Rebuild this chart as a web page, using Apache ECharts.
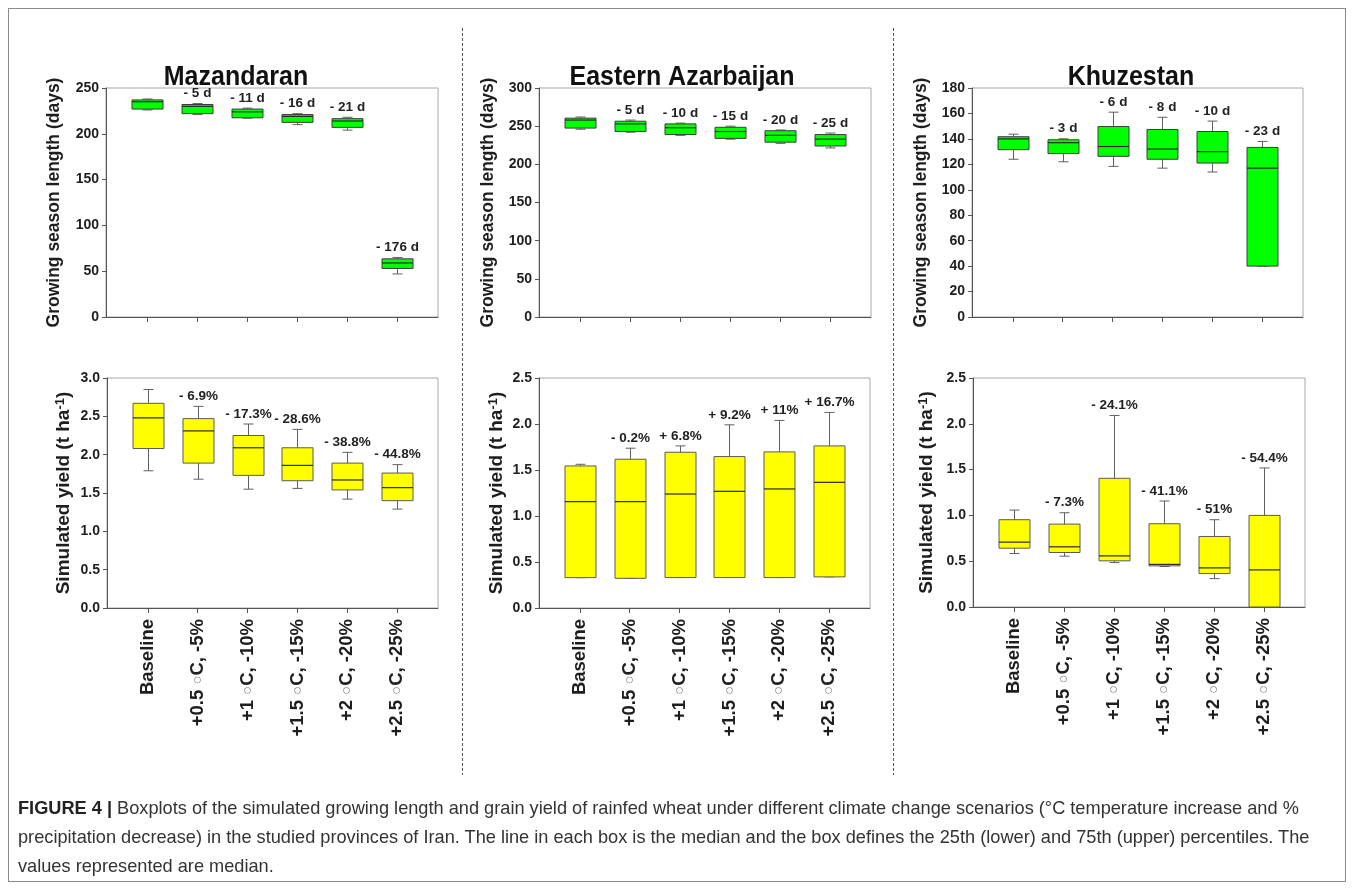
<!DOCTYPE html>
<html>
<head>
<meta charset="utf-8">
<script src="https://cdn.jsdelivr.net/npm/echarts@6/dist/echarts.min.js"></script>
<style>
  html, body { margin: 0; padding: 0; background: #fff; }
  #frame { position: absolute; left: 8px; top: 8px; width: 1338px; height: 874px; border: 1px solid #8a8a8a; box-sizing: border-box; }
  #chart { position: absolute; left: 0; top: 0; width: 1355px; height: 891px; }
  #caption { position: absolute; left: 18px; top: 794px; width: 1320px; font-family: "Liberation Sans", Arial, sans-serif; font-size: 18.2px; line-height: 29px; color: #333; white-space: nowrap; }
  #caption b { color: #222; }
</style>
</head>
<body>
<div id="frame"></div>
<div id="chart"></div>
<div id="caption"><b>FIGURE 4 |</b> Boxplots of the simulated growing length and grain yield of rainfed wheat under different climate change scenarios (°C temperature increase and %<br>precipitation decrease) in the studied provinces of Iran. The line in each box is the median and the box defines the 25th (lower) and 75th (upper) percentiles. The<br>values represented are median.</div>
<script>
// ------------------------------------------------------------
// data
// ------------------------------------------------------------
var SCENARIOS = ['Baseline', '+0.5 ○C, -5%', '+1 ○C, -10%', '+1.5 ○C, -15%', '+2 ○C, -20%', '+2.5 ○C, -25%'];
var PROVINCES = ['Mazandaran', 'Eastern Azarbaijan', 'Khuzestan'];

// each box: [lower whisker, q1, median, q3, upper whisker]
var MAZ_DAYS = [[226, 227, 235, 237, 238], [221, 222, 230, 232, 233], [217, 217.5, 224, 227, 228], [210, 212.5, 219, 221, 222], [204, 207, 214, 216.5, 218], [47, 53, 59, 63.5, 65]];
var EAZ_DAYS = [[246, 247.5, 258, 260.5, 262], [242, 243, 253, 256.5, 258], [238, 239, 248, 253, 254], [233, 234, 243, 248.5, 250], [227.5, 229, 238, 244, 245], [221.5, 224, 233, 239, 241]];
var KHU_DAYS = [[124, 131.5, 140, 141.7, 143.7], [122, 128.4, 137, 139.3, 140.1], [118.4, 126.3, 134, 149.7, 161], [117, 124, 132, 147.4, 157], [114, 121, 130, 145.8, 154], [40, 40, 117, 133.3, 138]];

var MAZ_YIELD = [[1.79, 2.08, 2.48, 2.67, 2.85], [1.68, 1.89, 2.31, 2.47, 2.63], [1.55, 1.73, 2.09, 2.25, 2.40], [1.56, 1.66, 1.86, 2.09, 2.33], [1.42, 1.54, 1.67, 1.89, 2.03], [1.29, 1.40, 1.57, 1.76, 1.87]];
var EAZ_YIELD = [[0.33, 0.33, 1.156, 1.544, 1.562], [0.323, 0.323, 1.156, 1.617, 1.737], [0.331, 0.331, 1.239, 1.693, 1.762], [0.331, 0.331, 1.268, 1.646, 1.991], [0.331, 0.331, 1.294, 1.697, 2.039], [0.338, 0.338, 1.366, 1.762, 2.126]];
var KHU_YIELD = [[0.584, 0.642, 0.708, 0.953, 1.058], [0.555, 0.595, 0.657, 0.905, 1.029], [0.485, 0.504, 0.558, 1.405, 2.091], [0.442, 0.449, 0.465, 0.909, 1.157], [0.31, 0.365, 0.427, 0.770, 0.953], [0, 0, 0.405, 1.0, 1.518]];

// change of the median against baseline, printed above each box
var MAZ_DAYS_CHANGE = ['', '- 5 d', '- 11 d', '- 16 d', '- 21 d', '- 176 d'];
var EAZ_DAYS_CHANGE = ['', '- 5 d', '- 10 d', '- 15 d', '- 20 d', '- 25 d'];
var KHU_DAYS_CHANGE = ['', '- 3 d', '- 6 d', '- 8 d', '- 10 d', '- 23 d'];
var MAZ_YIELD_CHANGE = ['', '- 6.9%', '- 17.3%', '- 28.6%', '- 38.8%', '- 44.8%'];
var EAZ_YIELD_CHANGE = ['', '- 0.2%', '+ 6.8%', '+ 9.2%', '+ 11%', '+ 16.7%'];
var KHU_YIELD_CHANGE = ['', '- 7.3%', '- 24.1%', '- 41.1%', '- 51%', '- 54.4%'];

// y axis ticks
var DAYS_MAX = [250, 300, 180];
var DAYS_STEP = [50, 50, 20];
var YIELD_MAX = [3, 2.5, 2.5];
var YIELD_STEP = [0.5, 0.5, 0.5];

// ------------------------------------------------------------
// layout
// ------------------------------------------------------------
var FONT = '"Liberation Sans", Arial, sans-serif';
var GRIDS = [
  { left: 106, top: 88, width: 332, height: 229 },
  { left: 539, top: 88, width: 332, height: 229 },
  { left: 972, top: 88, width: 331, height: 229 },
  { left: 107, top: 378, width: 331, height: 230 },
  { left: 539, top: 378, width: 331, height: 230 },
  { left: 973, top: 378, width: 332, height: 229 }
];
var TITLE_X = [236, 682, 1131];
var TICK_POS = [1, 2, 3, 4, 5, 6];

var panels = [
  { data: MAZ_DAYS, change: MAZ_DAYS_CHANGE, max: DAYS_MAX[0], step: DAYS_STEP[0], days: true, nameGap: 43 },
  { data: EAZ_DAYS, change: EAZ_DAYS_CHANGE, max: DAYS_MAX[1], step: DAYS_STEP[1], days: true, nameGap: 42 },
  { data: KHU_DAYS, change: KHU_DAYS_CHANGE, max: DAYS_MAX[2], step: DAYS_STEP[2], days: true, nameGap: 42 },
  { data: MAZ_YIELD, change: MAZ_YIELD_CHANGE, max: YIELD_MAX[0], step: YIELD_STEP[0], days: false, nameGap: 34 },
  { data: EAZ_YIELD, change: EAZ_YIELD_CHANGE, max: YIELD_MAX[1], step: YIELD_STEP[1], days: false, nameGap: 33 },
  { data: KHU_YIELD, change: KHU_YIELD_CHANGE, max: YIELD_MAX[2], step: YIELD_STEP[2], days: false, nameGap: 37 }
];

function boxRenderer(changes, fill, edge) {
  return function (params, api) {
    var x = api.value(0);
    var pLow = api.coord([x, api.value(1)]);
    var pQ1 = api.coord([x, api.value(2)]);
    var pMed = api.coord([x, api.value(3)]);
    var pQ3 = api.coord([x, api.value(4)]);
    var pHigh = api.coord([x, api.value(5)]);
    var cx = Math.round(pMed[0]) + 0.5;
    var hw = 15.5, cap = 5;
    var whisker = { stroke: '#606060', lineWidth: 1 };
    var children = [
      { type: 'line', shape: { x1: cx, y1: pHigh[1], x2: cx, y2: pQ3[1] }, style: whisker },
      { type: 'line', shape: { x1: cx, y1: pQ1[1], x2: cx, y2: pLow[1] }, style: whisker },
      { type: 'line', shape: { x1: cx - cap, y1: pHigh[1], x2: cx + cap, y2: pHigh[1] }, style: whisker },
      { type: 'line', shape: { x1: cx - cap, y1: pLow[1], x2: cx + cap, y2: pLow[1] }, style: whisker },
      { type: 'rect', shape: { x: cx - hw, y: pQ3[1], width: 2 * hw, height: pQ1[1] - pQ3[1] }, style: { fill: fill, stroke: edge, lineWidth: 1 } },
      { type: 'line', shape: { x1: cx - hw, y1: pMed[1], x2: cx + hw, y2: pMed[1] }, style: { stroke: '#2a2a2a', lineWidth: 1.2 } }
    ];
    var txt = changes[params.dataIndex];
    if (txt) {
      children.push({
        type: 'text', x: cx, y: pHigh[1] - 3,
        style: { text: txt, align: 'center', verticalAlign: 'bottom', textAlign: 'center', textVerticalAlign: 'bottom', font: 'bold 13.5px ' + FONT, fill: '#222' }
      });
    }
    return { type: 'group', children: children };
  };
}

var xAxes = [], yAxes = [], series = [];
panels.forEach(function (p, i) {
  var bottomRow = !p.days;
  xAxes.push({
    type: 'value', gridIndex: i, min: 0.18, max: 6.82,
    splitLine: { show: false },
    axisLine: { show: true, lineStyle: { color: '#555' } },
    axisTick: { show: true, customValues: TICK_POS, length: 5, lineStyle: { color: '#555' } },
    axisLabel: bottomRow ? {
      show: true, customValues: TICK_POS, rotate: 90, margin: 11,
      fontFamily: FONT, fontWeight: 'bold', fontSize: 18.5, color: '#1e1e1e',
      formatter: function (v) { return SCENARIOS[Math.round(v) - 1].replace('○', '{deg|○}'); },
      rich: { deg: { fontFamily: FONT, fontSize: 15, color: '#8a8a8a' } }
    } : { show: false }
  });
  yAxes.push({
    type: 'value', gridIndex: i, min: 0, max: p.max, interval: p.step,
    name: p.days ? 'Growing season length (days)' : 'Simulated yield (t ha{sup|-1})',
    nameLocation: 'middle', nameGap: p.nameGap,
    nameTextStyle: {
      fontFamily: FONT, fontWeight: 'bold', fontSize: p.days ? 17.5 : 19, color: '#1e1e1e',
      rich: { sup: { fontFamily: FONT, fontWeight: 'bold', fontSize: 13, color: '#1e1e1e', verticalAlign: 'top' } }
    },
    splitLine: { show: false },
    axisLine: { show: true, lineStyle: { color: '#555' } },
    axisTick: { show: true, length: 4, lineStyle: { color: '#555' } },
    axisLabel: {
      fontFamily: FONT, fontWeight: 'bold', fontSize: 14, color: '#1e1e1e', margin: 7,
      formatter: function (v) { return p.days ? String(v) : v.toFixed(1); }
    }
  });
  series.push({
    type: 'custom', xAxisIndex: i, yAxisIndex: i, clip: false,
    renderItem: boxRenderer(p.change, p.days ? '#00ff00' : '#ffff00', p.days ? '#3c3c3c' : '#5a5a5a'),
    encode: { x: 0, y: [1, 2, 3, 4, 5] },
    data: p.data.map(function (b, j) { return [j + 1].concat(b); })
  });
});

var graphics = [];
PROVINCES.forEach(function (name, i) {
  graphics.push({
    type: 'text', x: TITLE_X[i], y: 77, scaleY: 1.12,
    style: { text: name, font: 'bold 25px ' + FONT, fill: '#111', align: 'center', verticalAlign: 'middle', textAlign: 'center', textVerticalAlign: 'middle' }
  });
});
[462.5, 893.5].forEach(function (x) {
  graphics.push({
    type: 'line', shape: { x1: x, y1: 28, x2: x, y2: 775 },
    style: { stroke: '#555', lineWidth: 1, lineDash: [3, 2] }
  });
});

var chart = echarts.init(document.getElementById('chart'), null, { renderer: 'canvas' });
chart.setOption({
  animation: false,
  grid: GRIDS.map(function (g) {
    return { left: g.left, top: g.top, width: g.width, height: g.height, show: true, borderColor: '#a8a8a8', borderWidth: 1, backgroundColor: 'transparent' };
  }),
  xAxis: xAxes,
  yAxis: yAxes,
  series: series,
  graphic: graphics
});
</script>
</body>
</html>
